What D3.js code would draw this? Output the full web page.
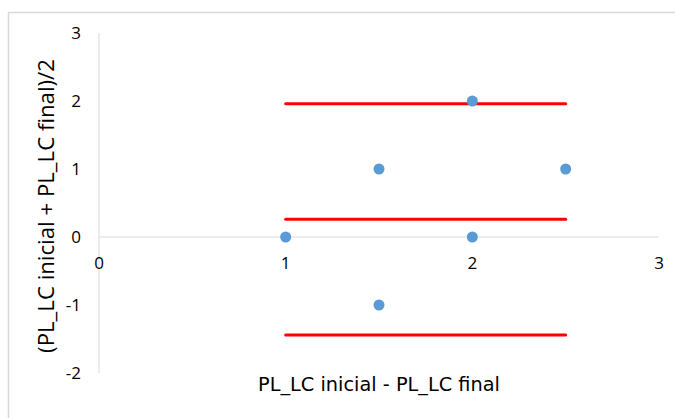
<!DOCTYPE html>
<html>
<head>
<meta charset="utf-8">
<script src="https://cdn.jsdelivr.net/npm/d3@7"></script>
<style>
  html, body { margin: 0; padding: 0; background: #fff; }
  svg text { fill: #000; }
</style>
</head>
<body>
<svg id="chart" width="675" height="418"></svg>
<script>
// Differences vs. means (Bland–Altman style)
const xValues = [1, 1.5, 1.5, 2, 2, 2.5];
const yValues = [0, 1, -1, 2, 0, 1];

// Mean difference and limits of agreement
const limitValues = [1.96, 0.26, -1.44];
const limitRange = [1, 2.5];

const xTicks = [0, 1, 2, 3];
const yTicks = [-2, -1, 0, 1, 2, 3];

const xTitle = "PL_LC inicial - PL_LC final";
const yTitle = "(PL_LC inicial + PL_LC final)/2";

const baseFont = "'Open Sans', 'Noto Sans', sans-serif";
const titleFont = "'DejaVu Sans', sans-serif";

const svg = d3.select("#chart");

// chart area frame
svg.append("rect")
  .attr("x", 8.5).attr("y", 12.5)
  .attr("width", 700).attr("height", 420)
  .attr("fill", "#fff")
  .attr("stroke", "#d9d9d9")
  .attr("stroke-width", 1.5);

const x = d3.scaleLinear().domain([0, 3]).range([99, 659]);
const y = d3.scaleLinear().domain([-2, 3]).range([373, 33]);

// vertical axis line
svg.append("line")
  .attr("x1", x(0)).attr("x2", x(0))
  .attr("y1", y(3)).attr("y2", y(-2))
  .attr("stroke", "#d9d9d9").attr("stroke-width", 1);

// horizontal axis line, crossing at y = 0
svg.append("line")
  .attr("x1", x(0)).attr("x2", x(3))
  .attr("y1", y(0)).attr("y2", y(0))
  .attr("stroke", "#d9d9d9").attr("stroke-width", 1);

// y tick labels
svg.append("g").selectAll("text")
  .data(yTicks).join("text")
  .attr("x", 81)
  .attr("y", d => y(d))
  .attr("dy", "0.35em")
  .attr("text-anchor", "end")
  .style("font-family", baseFont)
  .style("font-size", "17px")
  .text(d => d);

// x tick labels, under the y = 0 axis
svg.append("g").selectAll("text")
  .data(xTicks).join("text")
  .attr("x", d => x(d))
  .attr("y", y(0) + 26)
  .attr("dy", "0.35em")
  .attr("text-anchor", "middle")
  .style("font-family", baseFont)
  .style("font-size", "17px")
  .text(d => d);

// limit lines
svg.append("g").selectAll("line")
  .data(limitValues).join("line")
  .attr("x1", x(limitRange[0])).attr("x2", x(limitRange[1]))
  .attr("y1", d => y(d)).attr("y2", d => y(d))
  .attr("stroke", "#ff0000")
  .attr("stroke-width", 3)
  .attr("stroke-linecap", "round");

// points
svg.append("g").selectAll("circle")
  .data(xValues.map((v, i) => [v, yValues[i]])).join("circle")
  .attr("cx", d => x(d[0]))
  .attr("cy", d => y(d[1]))
  .attr("r", 5.5)
  .attr("fill", "#5b9bd5");

// size a title so it spans the wanted length
function fitFont(sel, family, width) {
  sel.style("font-family", family).style("font-size", "16px");
  const w = sel.node().getComputedTextLength();
  sel.style("font-size", (16 * width / w).toFixed(2) + "px");
}

// axis titles
const xt = svg.append("text")
  .attr("x", 379)
  .attr("y", 384)
  .attr("dy", "0.35em")
  .attr("text-anchor", "middle")
  .text(xTitle);
fitFont(xt, titleFont, 242);

const yt = svg.append("text")
  .attr("transform", "translate(46,206) rotate(-90)")
  .attr("dy", "0.35em")
  .attr("text-anchor", "middle")
  .text(yTitle);
fitFont(yt, baseFont, 294);
</script>
</body>
</html>
